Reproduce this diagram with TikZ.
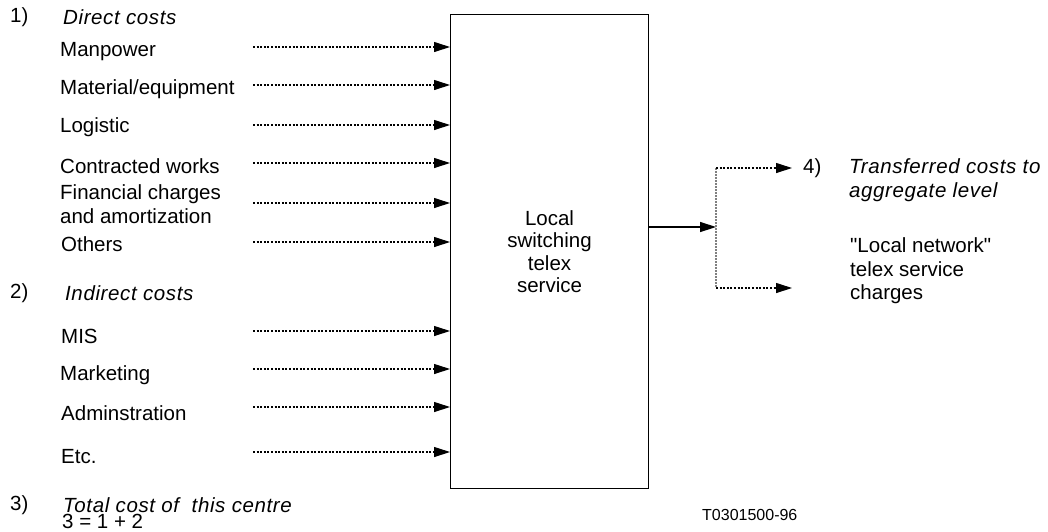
\documentclass[tikz,border=0pt]{standalone}
\usepackage{fontspec}
\setmainfont{Liberation Sans}
\usetikzlibrary{arrows.meta}
\begin{document}
\begin{tikzpicture}[x=1pt,y=-1pt,
  lbl/.style={anchor=west,inner sep=0pt,font=\fontsize{20.5}{23.5}\selectfont},
  ilbl/.style={lbl,font=\fontsize{20.5}{23.5}\selectfont\itshape\addfontfeature{LetterSpace=3}},
  darr/.style={line width=1.1pt,dash pattern=on 2pt off 1.6pt,-{Triangle[length=16pt,width=10pt]}},
  sarr/.style={line width=1.4pt,-{Triangle[length=16pt,width=10pt]}},
  gdot/.style={line width=1.1pt,gray,dash pattern=on 1.5pt off 1.5pt}]
\useasboundingbox (0,0) rectangle (1048,531);
\node[draw,line width=1pt,minimum width=198pt,minimum height=474pt,inner sep=0pt,anchor=north west,
  align=center,font=\fontsize{20.5}{22.5}\selectfont] (box) at (450,14) {Local\\switching\\telex\\service};
% left labels
\node[lbl] (n1) at (10,17) {1)};
\node[ilbl] (h1) at (63,17) {Direct costs};
\node[lbl] (a1) at (60,52) {Manpower};
\node[lbl] (a2) at (60,89) {Material/equipment};
\node[lbl] (a3) at (60,127) {Logistic};
\node[lbl] (a4) at (60,166) {Contracted works};
\node[lbl,align=left] (a5) at (60,204) {Financial charges\\and amortization};
\node[lbl] (a6) at (61,244) {Others};
\node[lbl] (n2) at (10,293) {2)};
\node[ilbl] (h2) at (65,293) {Indirect costs};
\node[lbl] (b1) at (61,336) {MIS};
\node[lbl] (b2) at (60,375) {Marketing};
\node[lbl] (b3) at (61,413) {Adminstration};
\node[lbl] (b4) at (61,457) {Etc.};
\node[lbl] (n3) at (10,505) {3)};
\node[ilbl] (h3) at (63,505) {Total cost of~ this centre};
\node[lbl] (h3b) at (62,521) {3 = 1 + 2};
% input arrows
\foreach \n/\y in {c1/47,c2/85,c3/125,c4/163,c5/203,c6/242,d1/331,d2/369,d3/407,d4/452}{
  \coordinate (\n) at (253,\y);
  \draw[darr] (\n) -- (\n -| box.west);
}
% output
\coordinate (j) at (716,227);
\coordinate (jt) at (716,168);
\coordinate (jb) at (716,288);
\coordinate (et) at (792,168);
\coordinate (eb) at (792,288);
\draw[sarr] (box.east |- j) -- (j);
\draw[gdot] (jt) -- (jb);
\draw[darr] (jt) -- (et);
\draw[darr] (jb) -- (eb);
\node[lbl] (n4) at (803,168) {4)};
\node[ilbl,align=left] (h4) at (849,180) {Transferred costs to\\aggregate level};
\node[lbl,align=left] (r1) at (850,271) {\textquotedbl Local network\textquotedbl\\telex service\\charges};
\node[lbl] (code) at (702,515) {\fontsize{16}{18}\selectfont T0301500-96};
\end{tikzpicture}
\end{document}
